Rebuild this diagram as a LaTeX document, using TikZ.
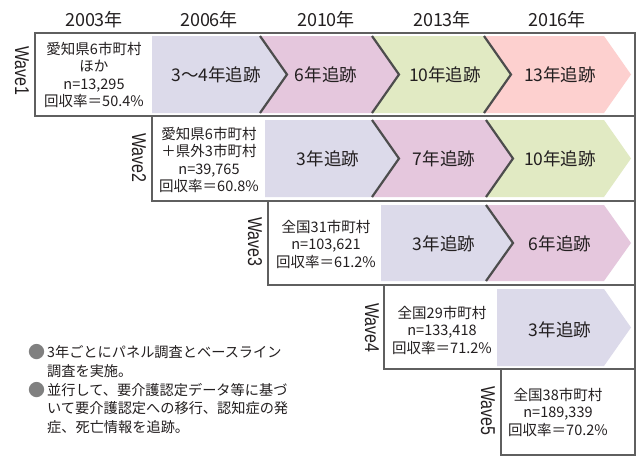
\documentclass[tikz,border=0pt]{standalone}
\usepackage{fontspec}
\setmainfont{Noto Sans CJK JP}
\newfontfamily\latinfont{Liberation Sans}
\definecolor{lav}{HTML}{DCDAEA}
\definecolor{pnk}{HTML}{E5C7DD}
\definecolor{grn}{HTML}{E1EAC3}
\definecolor{sal}{HTML}{FDD0CF}
\definecolor{edgegray}{HTML}{4D4D4D}
\definecolor{boxline}{HTML}{5F5F5F}
\definecolor{ink}{HTML}{231F20}
\definecolor{dotgray}{HTML}{808080}
\tikzset{
  wavebox/.style={draw=boxline, line width=1.1pt},
  infotext/.style={align=center, font=\fontsize{14.5}{17.5}\selectfont, text=ink, inner sep=0pt},
  steplabel/.style={font=\fontsize{17.5}{20}\selectfont, text=ink, inner sep=0pt},
  yearlabel/.style={font=\fontsize{18}{20}\selectfont, text=ink, inner sep=0pt},
  wavelabel/.style={rotate=-90, font=\latinfont\fontsize{16}{18}\selectfont, text=ink, inner sep=0pt},
  sepline/.style={draw=edgegray, line width=2.2pt, line join=miter},
  note/.style={anchor=west, font=\fontsize{14.2}{16}\selectfont, text=ink, inner sep=0pt},
}
\newcommand\chevfill[6]{\fill[#1] (#2,#4) -- (#3,#4) -- ({#3+27},#5) -- (#3,#6) -- (#2,#6) -- cycle;}
\newcommand\chevedge[4]{\draw[sepline] (#1,#2) -- ({#1+27},#3) -- (#1,#4);}
\newcommand\notedot{\makebox[19pt][l]{\raisebox{-0.5pt}{\color{dotgray}\fontsize{17}{17}\selectfont ●}}}
\newcommand\noteindent{\hspace*{19pt}}
\begin{document}
\begin{tikzpicture}[x=1pt,y=-1pt]
\fill[white] (0,0) rectangle (640,469);
\useasboundingbox (0,0) rectangle (640,469);

% years
\node[yearlabel] (y2003) at (94,20) {2003年};
\node[yearlabel] (y2006) at (209,20) {2006年};
\node[yearlabel] (y2010) at (326,20) {2010年};
\node[yearlabel] (y2013) at (442,20) {2013年};
\node[yearlabel] (y2016) at (557,20) {2016年};

% row 1
\chevfill{sal}{484}{604}{36}{74.5}{113}
\chevfill{grn}{372}{484}{36}{74.5}{113}
\chevfill{pnk}{260}{372}{36}{74.5}{113}
\chevfill{lav}{152}{260}{36}{74.5}{113}
\chevedge{260}{36}{74.5}{113}
\chevedge{372}{36}{74.5}{113}
\chevedge{484}{36}{74.5}{113}

% row 2
\chevfill{grn}{486}{604}{120}{158.5}{197}
\chevfill{pnk}{372}{486}{120}{158.5}{197}
\chevfill{lav}{265}{372}{120}{158.5}{197}
\chevedge{372}{120}{158.5}{197}
\chevedge{486}{120}{158.5}{197}

% row 3
\chevfill{pnk}{486}{604}{205}{243}{281}
\chevfill{lav}{381}{486}{205}{243}{281}
\chevedge{486}{205}{243}{281}

% row 4
\chevfill{lav}{497}{604}{289}{327.5}{366}

% boxes
\draw[wavebox] (35,33) rectangle (635,116);
\draw[wavebox] (152,116) rectangle (635,201);
\draw[wavebox] (268,201) rectangle (635,285);
\draw[wavebox] (384,285) rectangle (635,369);
\draw[wavebox] (501,369) rectangle (635,455);

% wave labels
\node[wavelabel] (w1) at (22,71) {\scalebox{1}[1.25]{Wave1}};
\node[wavelabel] (w2) at (139,158) {\scalebox{1}[1.25]{Wave2}};
\node[wavelabel] (w3) at (255,242) {\scalebox{1}[1.25]{Wave3}};
\node[wavelabel] (w4) at (372,328) {\scalebox{1}[1.25]{Wave4}};
\node[wavelabel] (w5) at (488,411) {\scalebox{1}[1.25]{Wave5}};

% info
\node[infotext] (i1) at (94,75) {愛知県6市町村\\ほか\\n=13,295\\回収率＝50.4\%};
\node[infotext] (i2) at (209,160) {愛知県6市町村\\＋県外3市町村\\n=39,765\\回収率＝60.8\%};
\node[infotext] (i3) at (326,244) {全国31市町村\\n=103,621\\回収率＝61.2\%};
\node[infotext] (i4) at (442,330) {全国29市町村\\n=133,418\\回収率＝71.2\%};
\node[infotext] (i5) at (558,412) {全国38市町村\\n=189,339\\回収率＝70.2\%};

% step labels
\node[steplabel] (s11) at (216,74.5) {3〜4年追跡};
\node[steplabel] (s12) at (326,74.5) {6年追跡};
\node[steplabel] (s13) at (445,74.5) {10年追跡};
\node[steplabel] (s14) at (560,74.5) {13年追跡};
\node[steplabel] (s21) at (328,159) {3年追跡};
\node[steplabel] (s22) at (444,159) {7年追跡};
\node[steplabel] (s23) at (560,159) {10年追跡};
\node[steplabel] (s31) at (444,244) {3年追跡};
\node[steplabel] (s32) at (560,244) {6年追跡};
\node[steplabel] (s41) at (560,330) {3年追跡};

% notes
\node[note] (n1) at (28,352) {\notedot 3年ごとにパネル調査とベースライン};
\node[note] (n2) at (28,371) {\noteindent 調査を実施。};
\node[note] (n3) at (28,390) {\notedot 並行して、要介護認定データ等に基づ};
\node[note] (n4) at (28,408.5) {\noteindent いて要介護認定への移行、認知症の発};
\node[note] (n5) at (28,427) {\noteindent 症、死亡情報を追跡。};
\end{tikzpicture}
\end{document}
